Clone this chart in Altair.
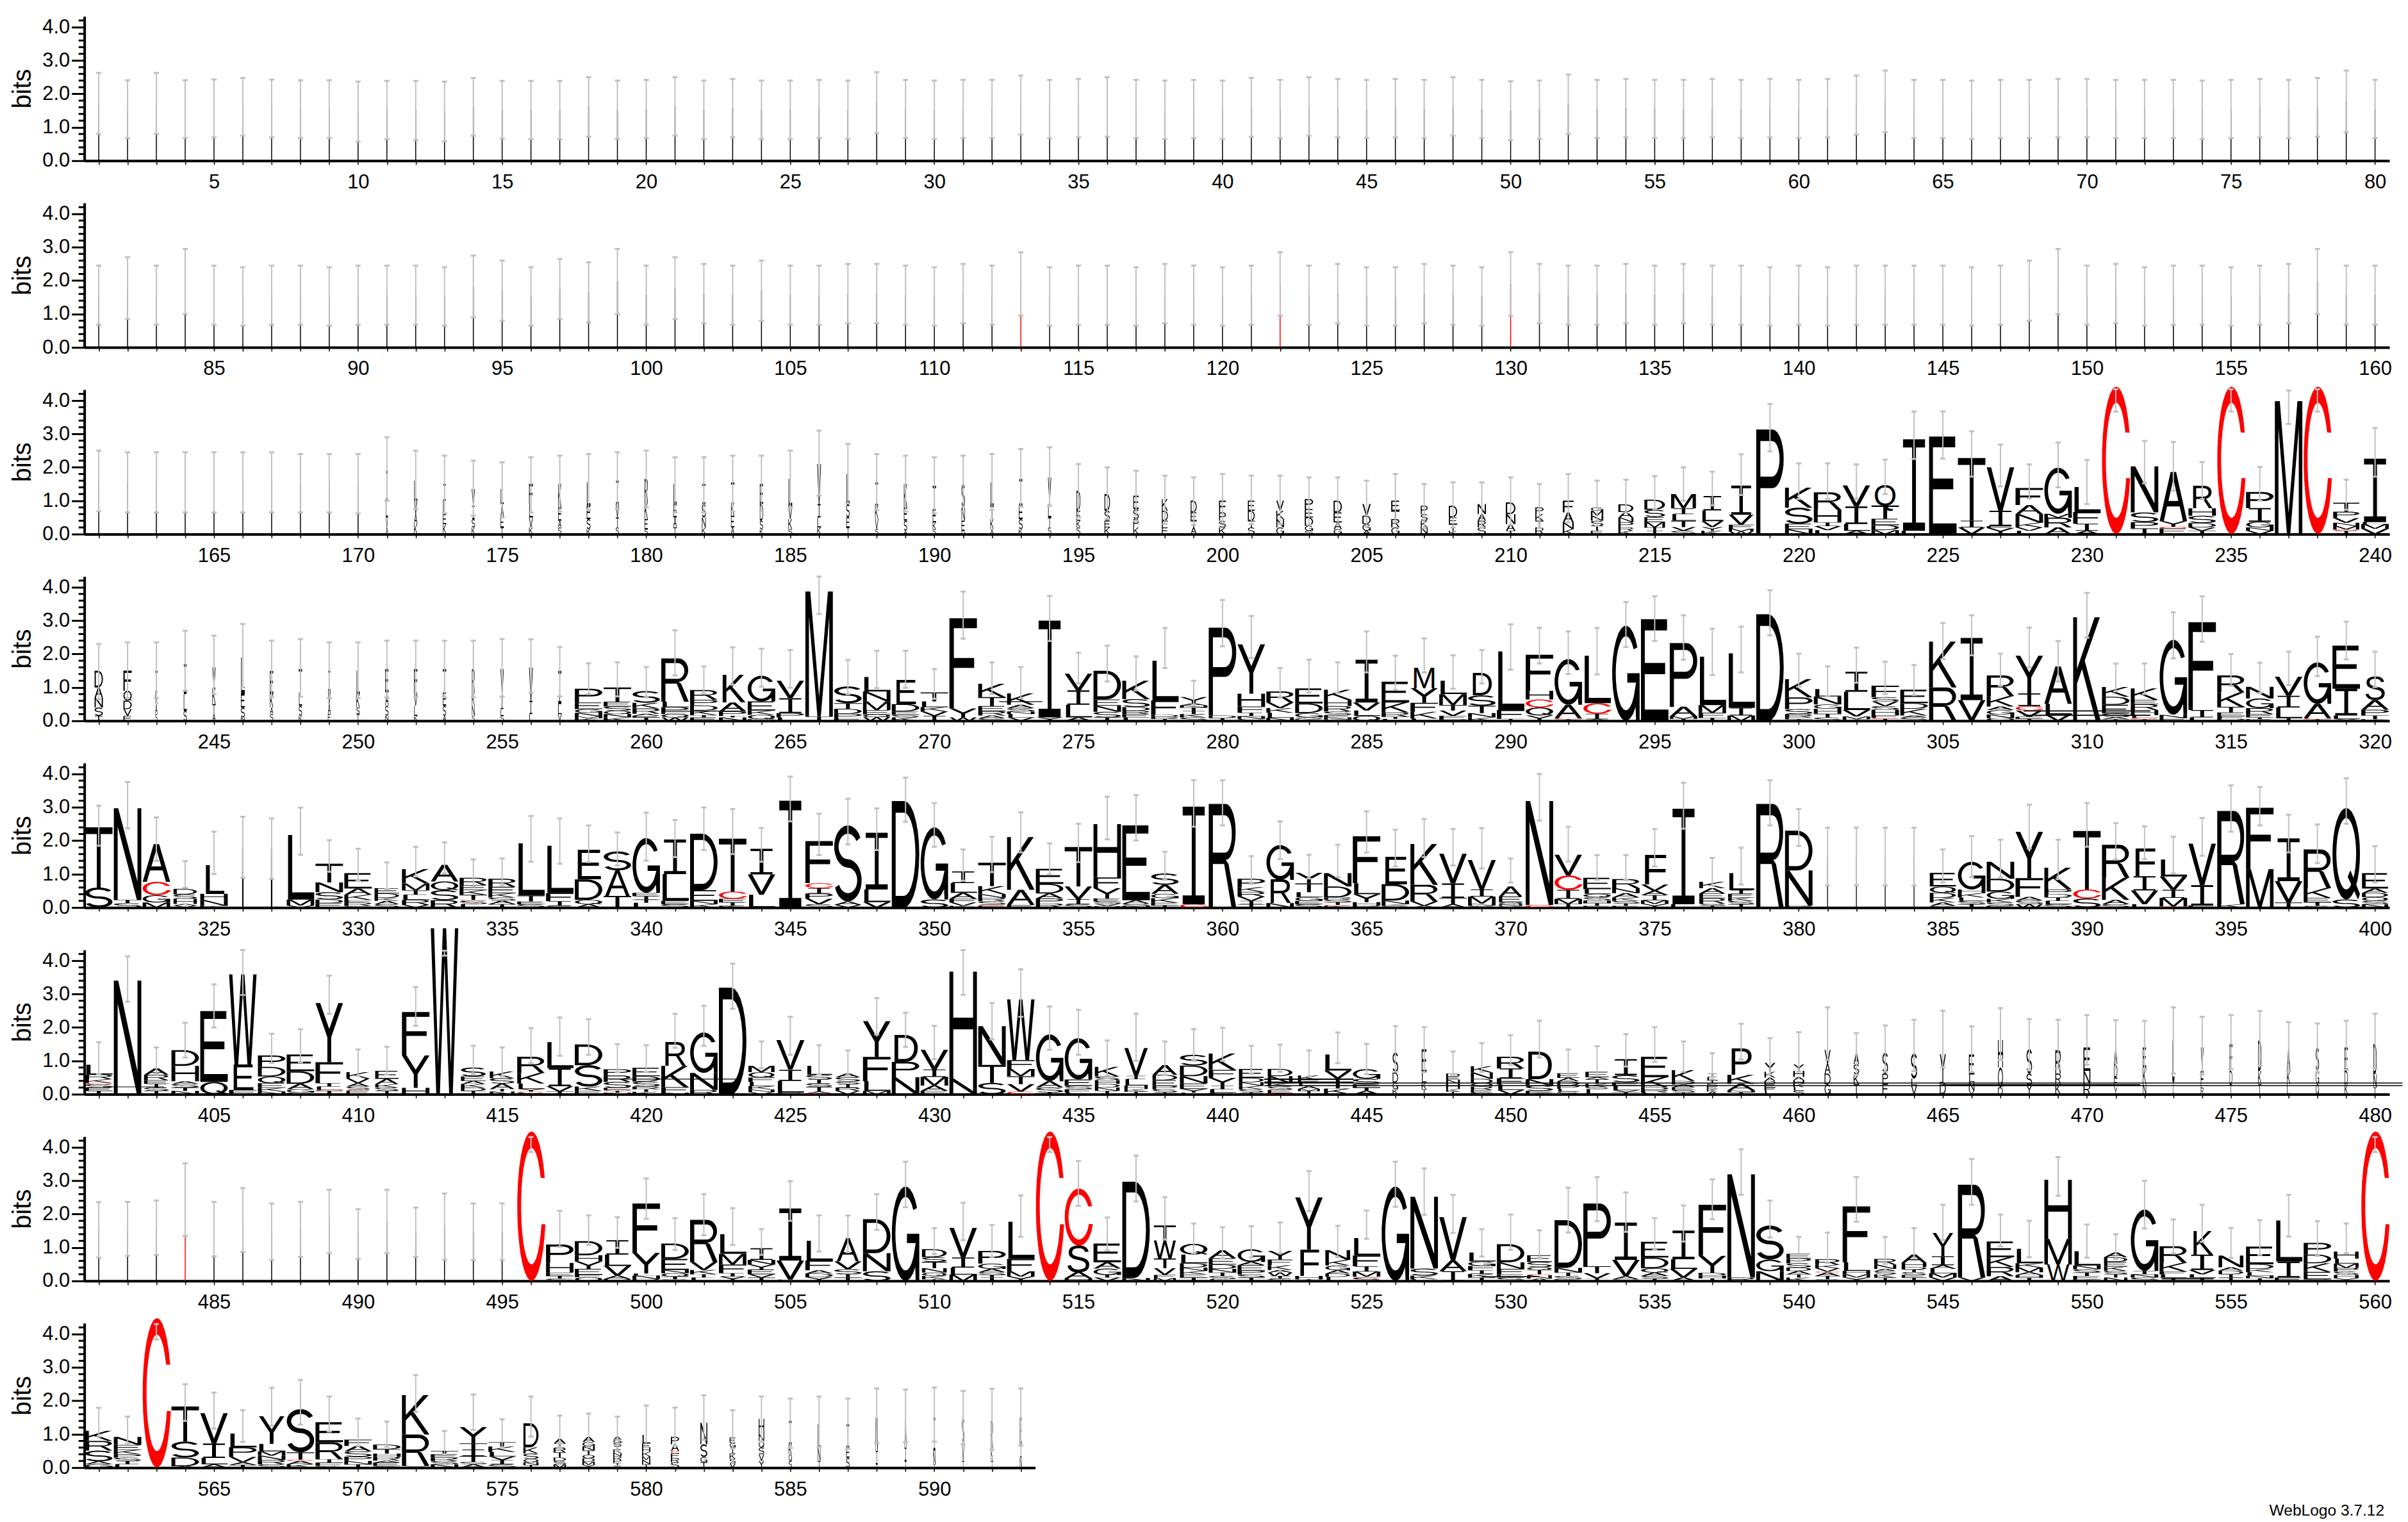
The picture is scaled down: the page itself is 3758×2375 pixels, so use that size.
import math
import altair as alt
import pandas as pd

# ---------- error-bar extents (bits), read per position ----------
TOP_R1 = [2.63,2.41,2.63,2.41,2.43,2.48,2.43,2.41,2.41,2.37,2.39,2.39,2.37,2.48,2.39,2.39,2.39,2.5,2.4,2.42,2.5,2.4,2.45,2.4,2.4,2.42,2.4,2.65,2.42,2.4,2.42,2.42,2.55,2.42,2.45,2.5,2.42,2.4,2.42,2.4,2.48,2.42,2.5,2.45,2.42,2.45,2.42,2.5,2.42,2.38,2.4,2.58,2.42,2.45,2.42,2.42,2.45,2.42,2.45,2.42,2.45,2.55,2.7,2.42,2.42,2.4,2.42,2.42,2.45,2.45,2.42,2.42,2.42,2.4,2.42,2.45,2.42,2.48,2.7,2.42]
LOW_R1 = [.8,.68,.8,.68,.7,.75,.7,.68,.68,.57,.64,.62,.58,.75,.66,.64,.64,.72,.65,.68,.75,.65,.7,.65,.65,.68,.65,.82,.68,.65,.68,.68,.78,.68,.7,.72,.68,.65,.68,.65,.72,.68,.75,.7,.68,.7,.68,.75,.68,.62,.65,.8,.68,.7,.68,.68,.7,.68,.7,.68,.7,.78,.85,.68,.68,.65,.68,.68,.7,.7,.68,.68,.68,.65,.68,.7,.68,.72,.85,.68]
TOP_R2 = [2.45,2.7,2.45,2.95,2.45,2.4,2.45,2.45,2.4,2.45,2.45,2.45,2.4,2.75,2.6,2.4,2.65,2.55,2.95,2.45,2.7,2.5,2.45,2.6,2.45,2.45,2.5,2.5,2.45,2.4,2.5,2.45,2.85,2.4,2.45,2.45,2.4,2.5,2.45,2.4,2.45,2.85,2.45,2.5,2.4,2.4,2.5,2.45,2.4,2.85,2.5,2.45,2.45,2.5,2.45,2.5,2.45,2.45,2.4,2.45,2.4,2.45,2.45,2.45,2.45,2.4,2.45,2.6,2.95,2.45,2.5,2.4,2.45,2.45,2.4,2.45,2.5,2.95,2.45,2.45]
LOW_R2 = [.68,.85,.68,1.0,.68,.65,.68,.68,.65,.68,.68,.68,.65,.9,.8,.65,.85,.75,1.0,.68,.85,.72,.68,.8,.68,.68,.72,.72,.68,.65,.72,.68,.95,.65,.68,.68,.65,.72,.68,.65,.68,.95,.68,.72,.65,.65,.72,.68,.65,.95,.72,.68,.68,.72,.68,.72,.68,.68,.65,.68,.65,.68,.68,.68,.68,.65,.68,.8,1.0,.68,.72,.65,.68,.68,.65,.68,.72,1.0,.68,.68]
TOP_R3 = [2.5,2.45,2.45,2.45,2.45,2.45,2.45,2.4,2.4,2.4,2.9,2.5,2.35,2.2,2.15,2.3,2.35,2.4,2.45,2.5,2.3,2.3,2.35,2.35,2.5,3.1,2.7,2.4,2.35,2.3,2.35,2.4,2.55,2.6,2.1,2.0,1.9,1.75,1.7,1.8,1.75,1.75,1.7,1.7,1.6,1.8,1.5,1.55,1.55,1.7,1.5,1.8,1.6,1.63,1.74,2.0,1.87,2.39,3.9,2.12,2.12,2.09,2.23,3.67,3.67,3.08,2.68,2.09,2.74,2.22,4.34,2.79,2.76,2.16,4.34,2.01,4.3,4.34,1.63,3.18]
LOW_R3 = [.68,.65,.65,.65,.65,.65,.65,.65,.65,.62,1.0,.75,.62,.55,.5,.65,.68,.72,.75,.8,.65,.65,.68,.68,.78,1.15,.92,.72,.68,.62,.68,.72,.82,.85,.5,.45,.4,.3,.28,.35,.3,.3,.28,.28,.22,.35,.18,.2,.2,.28,.18,.35,.25,.64,.75,1.0,.86,1.17,2.48,1.05,1.05,1.05,1.2,2.25,2.26,1.72,1.43,1.07,1.4,.9,3.67,1.52,1.3,1.05,3.67,1.0,3.3,3.67,.73,1.72]
TOP_R4 = [2.3,2.35,2.35,2.7,2.55,2.9,2.4,2.45,2.35,2.35,2.4,2.4,2.4,2.4,2.45,2.44,2.21,1.72,1.75,1.61,2.71,1.63,2.2,2.16,2.12,4.32,1.82,2.1,2.1,1.55,3.87,1.75,1.61,3.74,2.04,2.25,1.93,2.78,1.2,3.62,3.14,1.58,1.83,1.75,2.68,1.95,2.47,1.96,2.12,2.89,2.79,2.68,2.78,3.56,3.73,3.16,2.76,2.82,3.91,2.01,1.63,2.19,1.77,1.67,2.93,3.16,2.01,2.79,2.39,3.83,1.71,1.72,3.25,3.73,2.0,1.74,2.07,2.52,2.97,2.07]
LOW_R4 = [.65,.68,.68,.9,.8,1.0,.7,.72,.68,.68,.7,.7,.7,.7,.72,.84,.73,.8,.73,.7,1.36,.82,1.08,1.02,.99,3.2,.8,.98,.99,.66,2.46,.8,.67,2.39,1.12,1.18,.91,1.58,.48,2.23,1.88,.69,.85,.83,1.45,.93,1.45,.96,1.12,1.53,1.72,1.4,1.39,2.21,2.39,1.83,1.37,1.45,2.56,1.02,.73,1.14,.8,.77,1.85,1.96,1.05,1.6,1.18,2.49,.88,.8,1.87,2.37,1.05,.83,1.07,1.34,1.84,1.01]
TOP_R5 = [3.05,3.76,2.7,1.39,2.27,2.72,2.67,2.99,2.02,1.76,1.35,1.82,1.95,1.44,1.47,2.74,2.67,2.46,2.25,2.84,2.62,3.0,2.95,2.38,3.92,2.81,3.26,2.97,3.89,3.13,1.74,2.12,2.85,1.92,2.51,3.32,3.37,1.67,3.81,3.81,1.54,2.58,1.58,1.88,2.88,2.33,2.65,2.35,2.38,1.47,4.0,2.42,1.57,1.57,2.35,3.74,1.49,1.79,3.81,2.95,2.39,2.39,2.39,2.39,1.74,2.14,2.03,3.08,2.03,3.13,2.53,2.43,2.12,2.68,3.66,3.61,2.78,2.49,3.87,1.84]
LOW_R5 = [1.85,2.37,1.4,.59,1.0,.89,.86,1.58,1.07,.8,.55,.93,1.02,.63,.67,1.37,1.31,1.36,1.26,1.4,1.51,1.72,1.6,1.37,2.58,1.57,1.89,1.72,2.57,1.82,.8,1.06,1.65,.99,1.36,2.04,2.01,.83,2.42,2.46,.71,1.45,.87,.91,1.65,1.23,1.51,1.26,1.17,.75,2.6,1.38,.83,.82,1.23,2.36,.66,.69,2.46,1.84,.66,.66,.66,.66,.75,.91,.9,1.77,.85,1.82,1.44,1.45,1.02,1.55,2.27,2.46,1.65,1.33,2.51,.75]
TOP_R6 = [1.56,4.13,1.4,2.14,3.29,4.32,1.81,1.95,3.55,1.34,1.42,3.21,4.3,1.45,1.4,1.98,2.3,2.25,1.5,1.47,2.41,2.65,3.91,1.58,2.32,1.47,1.31,2.88,2.44,2.05,4.32,2.73,3.74,2.63,2.53,1.61,2.41,1.58,1.95,1.99,1.45,1.49,1.31,1.85,1.51,2.04,2.01,1.28,1.53,1.77,2.2,1.34,1.44,1.8,2.01,1.58,1.23,2.11,1.68,1.86,2.6,1.83,2.06,2.23,2.5,2.03,2.58,2.25,2.23,2.37,2.22,2.2,2.6,2.32,2.37,2.49,2.16,2.12,2.2,2.41]
LOW_R6 = [.6,2.77,.6,1.1,2.0,2.97,.94,.96,2.41,.55,.59,2.05,4.15,.6,.54,.93,1.15,1.18,.66,.66,1.39,1.45,2.56,.78,1.18,.59,.57,1.79,1.42,1.05,2.98,1.64,2.32,1.33,1.18,.55,1.0,.58,1.0,1.0,.61,.67,.54,.93,.6,.67,.66,.59,.67,.88,1.1,.54,.57,.83,.97,.67,.45,1.04,.59,.67,1.02,.57,.67,.69,.8,.66,1.02,.71,.77,.88,.75,.75,.62,.59,.75,.86,.7,.66,.73,.78]
TOP_R7 = [2.36,2.37,2.41,3.52,2.37,2.78,2.32,2.37,2.73,2.15,2.73,2.2,2.62,2.32,2.32,4.31,2.1,1.96,1.91,3.07,1.88,2.6,2.18,1.55,2.99,1.96,1.96,2.6,3.57,1.58,2.34,1.67,2.56,4.31,3.59,1.9,3.75,2.51,1.72,1.61,1.64,1.75,3.29,1.65,2.11,3.57,3.37,2.58,1.55,1.99,1.52,2.79,3.11,2.65,1.88,2.26,3.04,3.94,2.41,1.32,1.45,3.11,1.32,1.58,2.28,3.65,1.99,1.8,3.71,1.69,1.4,3.0,1.84,2.28,1.59,1.82,2.58,1.79,1.72,4.31]
LOW_R7 = [.7,.75,.78,1.35,.74,.87,.63,.72,.83,.66,.83,.72,.63,.63,.63,3.86,1.02,1.08,.99,1.86,.93,1.37,1.08,.78,1.8,.88,.86,1.53,2.21,.8,1.22,.72,1.32,3.86,2.25,.91,2.38,1.24,.83,.67,.7,.83,2.09,.71,1.26,2.22,1.98,1.44,.73,.93,.69,1.45,1.79,1.47,.93,1.18,1.85,2.58,1.3,.59,.54,1.77,.51,.69,1.22,2.28,1.04,.71,2.55,.7,.65,1.57,.82,1.17,.69,.78,1.33,.75,.83,3.86]
TOP_R8 = [1.79,1.53,4.3,2.5,2.25,1.72,2.39,2.63,2.13,1.47,1.38,2.77,1.1,2.19,1.45,2.13,1.56,1.62,1.53,1.86,1.8,2.17,1.72,2.13,2.07,2.13,2.07,2.37,2.34,2.4,2.3,2.36,2.37]
LOW_R8 = [.93,.71,3.84,1.4,1.17,.77,1.26,1.29,1.08,.65,.62,1.67,.4,1.13,.59,.93,.61,.61,.51,.62,.65,.83,.57,.77,.59,.62,.57,.73,.76,.78,.7,.54,.66]

ROW_STARTS = [1, 81, 161, 241, 321, 401, 481, 561]
ROW_TOPS = [TOP_R1, TOP_R2, TOP_R3, TOP_R4, TOP_R5, TOP_R6, TOP_R7, TOP_R8]
ROW_LOWS = [LOW_R1, LOW_R2, LOW_R3, LOW_R4, LOW_R5, LOW_R6, LOW_R7, LOW_R8]

# ---------- stacked letters: top to bottom, height in bits; w = width share ----------
STACK_R3 = {
171:"w.08 I.9 L.5 V.3 A.2",172:"w.12 L.6 V.4 A.3 K.3",173:"w.12 I.5 L.4 E.3 K.3",174:"w.12 V.5 I.4 S.25 K.2",175:"w.12 L.45 A.4 E.3 T.2",
176:"w.14 F.6 L.4 V.3 K.2",177:"w.12 K.7 E.4 A.2 S.2",178:"w.14 L.7 E.4 S.3 K.15",179:"w.12 I.7 V.4 T.3 S.2",180:"w.12 R.7 K.5 E.3 S.15",
181:"w.12 L.6 E.4 A.3 T.2",182:"w.14 I.6 S.4 N.3 K.2",183:"w.12 T.6 K.4 E.35 A.2",184:"w.12 E.6 D.5 S.25 K.15",185:"w.14 L.8 V.4 K.3 S.15",
186:"w.14 V1.2 I.4 L.3 K.2",187:"w.12 L.9 S.4 E.3 T.2",188:"w.12 I.7 K.4 V.3 S.15",189:"w.12 K.7 E.4 S.3 A.1",190:"w.12 T.7 E.4 K.2 S.15",
191:"w.12 S.7 N.4 E.3 D.1",192:"w.12 L.7 T.4 K.3 A.15",193:"w.14 I.8 E.4 S.3 K.15",194:"w.12 V.8 L.4 T.3 S.2",195:"w.14 D.6 E.3 K.2 S.2",
196:"w.2 D.5 S.3 E.2 K.2",197:"w.2 E.4 S.3 P.25 K.2",198:"w.22 K.35 D.3 F.2 E.2",199:"w.22 D.35 E.25 T.2 A.2",200:"w.25 F.35 P.25 S.2 K.2",
201:"w.25 E.3 D.3 T.2 S.2",202:"w.28 V.3 K.25 N.25 G.2",203:"w.3 P.3 E.25 D.25 G.15 S.1",204:"w.3 D.35 E.3 A.2 G.15",205:"w.3 V.35 D.25 G.2 A.1",
206:"w.3 E.3 T.25 R.25 G.2",207:"w.25 P.25 S.2 K.2 N.2",208:"w.3 D.35 E.2 T.2 K.1",209:"w.3 N.3 A.2 R.2 S.2",210:"w.35 D.35 N.3 A.2 T.1",
211:"w.3 P.2 K.2 T.2 R.2",212:"w.4 F.35 A.3 N.2 K.15",213:"w.45 G.1 M.15 N.15 S.15 T.15 E.1",214:"w.55 D.23 A.16 N.14 P.16 R.1 K.1",215:"w.75 D.3 S.22 E.15 M.16 T.1 I.1",
216:"w.9 M.43 I.17 L.2 T.19 V.11 S.1",217:"w.8 I.43 L.32 V.18 Y.11 K.1",218:"w.9 I.87 V.3 F.12 M.08 W.08",219:"P3.13",220:"K.6 S.48 E.16 N.15",
221:"R.52 H.38 I.11 V.12 L.12",222:"V.63 I.53 L.2 A.1",223:"Q.62 T.4 E.19 D.15 M.12",224:"I2.74 L.1",225:"E2.92",226:"T1.88 I.2 V.2",227:"V1.3 I.46 E.06 Y.18",
228:"F.51 A.27 N.26 K.14 V.1 L.1",229:"G1.38 M.12 R.29 A.2",230:"L.75 F.35 I.21 A.1",231:"C4.42",232:"N1.38 S.29 P.19 T.17",233:"A1.47 Y.17 C.05 E.17",
234:"R.67 H.22 S.22 D.13 V.1 T.1",235:"C4.42",236:"P.48 I.41 G.17 N.1 V.1",237:"M3.98",238:"C4.42",239:"w.95 T.27 P.19 V.14 N.1 M.1 C.04 I.1",240:"I1.9 L.06 M.14 V.16",
}
STACK_R4 = {
241:"w.3 D.5 A.3 N.3 S.25 T.15",242:"w.3 F.6 Q.3 D.25 V.2 E.15",243:"w.08 T.6 K.4 A.3 S.2",244:"w.12 I.9 L.5 S.3",245:"w.12 V.6 K.5 T.3 A.2",246:"w.14 L1.1 E.4 S.3 N.1",
247:"w.12 E.7 K.4 A.2 S.2",248:"w.12 T.7 L.4 S.3 K.15",249:"w.1 I.6 V.4 A.3 E.2",250:"w.12 L.7 K.4 S.2 T.2",251:"w.12 E.7 A.4 S.3 N.15",252:"w.12 F.7 V.4 L.3 K.15",
253:"w.12 T.7 E.4 S.3 A.15",254:"w.1 R.7 K.4 N.3 S.15",255:"w.12 V.8 I.4 L.2 S.15",256:"w.14 V1.0 I.4 L.2",257:"w.14 I1.0 L.3 V.2",
258:"P.41 E.2 G.11 N.11 M.05 K.08",259:"T.43 E.14 S.13 Q.1 N.1 K.1",260:"S.35 K.17 R.16 A.06 E.05 T.1",261:"R1.3 L.16 P.16 E.05 Q.1 W.1",262:"R.29 P.17 D.15 K.14 T.07 E.1",
263:"K.82 A.27 P.13 T.05 N.1",264:"G.77 E.27 K.13 Q.13 D.05",265:"V.52 I.45 P.13 L.1",266:"M3.75 I.12",267:"S.5 T.17 D.15 P.13 F.08",268:"L.43 N.3 M.26 E.13 Q.08 W.11",
269:"E.74 D.22 E.1 S.08 K.1",270:"T.27 L.17 K.13 V.13 I.15",271:"F2.7 Y.27 W.1",272:"K.4 T.27 E.15 R.13 A.08 S.08",273:"K.34 A.1 S.1 N.08 L.1 V.1",274:"I2.9 Y.1",
275:"V.5 I.43 L.38 A.1",276:"D.86 E.19 N.18 S.17 T.1",277:"K.55 S.24 D.11 R.1 E.1 L.1",278:"L1.19 F.43 D.06 R.06 T.06",279:"Y.19 A.06 N.06 T.1 I.1 K.1 S.1",280:"P2.63 D.08 T.08",
281:"Y1.48 H.38 F.19 I.1 N.08 S.06",282:"R.33 V.17 K.14 L.15 N.09",283:"E.45 D.29 G.13 S.05 K.05",284:"K.3 H.19 R.16 S.11 E.07 N.06 Q.04",285:"I1.28 V.24 L.16 Q.15",
286:"E.62 K.3 R.13 T.06 L.06",287:"M.62 Y.44 F.27 K.2 L.07",288:"L.4 M.33 T.16 V.16 F.1 P.05",289:"D.66 S.31 T.22 N.13 K.1",290:"L1.76 F.26 T.06",291:"F1.08 H.26 C.24 Q.24 Y.16",
292:"G1.37 A.4 C.03 T.05",293:"L1.42 C.32 I.16 A.05",294:"G2.85",295:"E3.04",296:"P1.91 A.29 M.07 T.06",297:"L1.45 M.23 F.15 T.09",298:"L1.63 I.23 M.16",299:"D3.19",
300:"K.55 P.35 S.15 R.1 E.05 T.05",301:"L.22 N.24 G.13 H.15 T.11 S.1",302:"I.6 L.55 V.19 M.08 K.05",303:"F.34 S.13 V.14 S.11 H.16 F.08 C.03 T.06",304:"E.4 D.17 K.2 A.06 S.1",
305:"K1.37 R1.0",306:"I1.86 V.62",307:"R.62 K.31 A.11 G.13 N.11 Q.08",308:"Y1.13 I.38 C.13 V.19 E.06 T.06",309:"A1.12 L.32 V.19",310:"K3.1",311:"K.29 D.24 E.26 S.11 A.06 T.05",
312:"K.34 E.13 R.18 H.15 L.08 C.04 T.05",313:"G2.25 N.1 E.08",314:"F2.63 I.22 L.1",315:"R.51 K.43 T.17 E.11 F.08 P.06",316:"N.35 G.29 R.18 E.1 I.05 K.05",317:"V.57 I.35 L.32 T.08",
318:"G1.24 A.43 C.03 T.05",319:"E1.29 I.8 L.1 Y.06",320:"S.69 A.29 P.17 T.11 K.05",
}
STACK_R5 = {
321:"T1.8 S.6",322:"N2.74 T.1 S.13",323:"A1.13 C.4 G.22 M.15",324:"w.85 D.17 S.13 H.15 A.05 V.06",325:"L.86 H.18 N.18 K.05",328:"L1.93 M.18 V.06",329:"T.56 N.29 S.22 D.11 E.13",
330:"E.46 A.19 K.15 F.08 R.1 S.05",331:"w.9 E.16 D.13 K.09 A.1 S.1",332:"K.43 M.21 I.13 L.15 R.15 V.08",333:"A.5 Q.26 S.3 R.22",334:"R.22 E.15 K.14 T.15 C.03 S.1 L.1",
335:"R.24 E.19 K.13 S.1 A.1 T.1",336:"L1.56 T.18 E.08 S.1",337:"L1.42 F.24 I.14 S.05",338:"E.88 D.61 Q.13 A.1",339:"S.57 A.76 T.35",340:"G1.64 E.1 I.1 T.1 L.14",
341:"I1.04 L.8 E.1 S.1",342:"D1.69 E.32 N.1 K.1",343:"T1.58 C.22 E.11 I.1 K.05",344:"I.77 V.61 L.38",345:"I3.2",346:"F1.26 C.15 I.16 P.16 V.16 S.1",347:"S2.28 A.1 V.08",
348:"I1.7 L.38 V.16",349:"D3.19",350:"G2.16 S.24",351:"I.35 L.29 A.18 F.11 V.1 K.05",352:"T.7 K.24 N.11 R.1 S.11 C.03 E.05",353:"K1.58 A.45 E.08",354:"E.45 D.29 A.15 P.15 R.12",
355:"T1.18 V.38 I.15 S.1",356:"H1.6 F.32 Y.31 E.08 S.08 V.06 Q.05",357:"E2.24 A.1 S.07 N.05",358:"S.34 A.27 G.13 K.14 E.08 T.06",359:"I2.92 C.1",360:"R3.1",361:"P.25 K.14 R.14 V.13 I.1 T.1",
362:"G1.04 R.7 N.13",363:"Y.32 T.26 L.15 G.11 E.1 S.1",364:"N.4 D.33 R.06 S.08 T.08 C.03 K.05",365:"F1.4 L.33 Y.24 H.1 R.06",366:"E.82 D.49 N.11 K.05 S.05",367:"K1.22 R.5 V.13 A.05",
368:"V.89 I.43 T.19 A.1",369:"V.88 I.21 M.21 N.06 S.06",370:"w.85 A.3 E.17 Q.06 N.05 G.05",371:"N3.11 C.08",372:"V.62 C.43 I.27 M.15 T.11",373:"E.34 L.14 Q.1 S.1 H.08 T.08 E.05",
374:"R.27 N.15 A.13 K.1 S.08 T.07 E.05",375:"F.89 V.19 A.13 I.15 M.11 Y.11",376:"I2.86 L.1",377:"w.95 K.19 A.16 E.14 R.16 S.06 T.06",378:"w.95 L.51 I.11 E.11 K.1 S.1 T.1",
379:"R3.1",380:"D1.19 N1.05 R.06",385:"w.95 E.41 Q.19 D.15 K.14 A.1 S.05",386:"G.83 H.11 K.13 L.1 S.1 T.1",387:"N.51 D.38 G.22 K.11 S.1 E.05",388:"Y1.39 F.56 A.11 S.11 W.1",
389:"K.65 P.14 D.1 I.1 L.1 S.1",390:"T1.75 C.27 S.27",391:"R.99 K.66 A.13 S.1",392:"F.83 I.43 V.41 L.1",393:"L.51 V.4 I.24 M.26 C.03",394:"V1.24 I.61 F.06",395:"R2.79 K.1",
396:"F1.84 M1.15",397:"I1.28 V.64 T.15",398:"R1.16 K.29 E.13 T.11 S.05",399:"Q2.74 S.24",400:"w.95 E.46 A.13 D.13 Q.11 S.1 N.1",
}
STACK_R6 = {
401:"L.29 R.14 K.11 C.04 S.1 E.1 T.1",402:"N3.4",403:"w.9 A.19 R.16 E.11 I.11 S.1 T.1",404:"D.47 H.46 A.08 S.11 T.1 N.1",405:"E2.12 Q.37",406:"W2.71 E.75 F.13",407:"P.34 D.29 Q.2 E.14 K.11 N.08",
408:"E.5 D.38 A.16 G.1 S.05",409:"Y1.77 F.63 I.1 L.1 C.03 T.1",410:"w.85 K.19 V.14 A.1 S.1 C.03 E.1",411:"w.85 E.24 A.16 K.1 S.1 T.1",412:"F1.3 Y.97 H.19",413:"W4.97",414:"w.9 S.27 E.13 A.1 K.1 D.1 T.1",
415:"w.9 K.2 S.16 A.16 T.08 N.08",416:"R.48 K.32 L.16 Y.08 C.03 S.05",417:"L.78 I.54 V.16 T.08",418:"D.62 S.64 K.13 E.1",419:"P.19 R.19 S.18 E.06 C.03 T.05 N.05",420:"E.25 D.16 S.15 R.08 T.08 K.07",
421:"R.71 K.64 F.16 N.05",422:"G1.21 N.51 R.13",423:"D3.19",424:"w.95 M.19 Q.16 F.13 L.13 K.1 N.08 V.06",425:"V.88 I.33 L.35 S.05",426:"w.95 L.27 S.14 I.12 S.1 T.14 A.05 C.03",427:"w.9 A.11 S.13 S.08 I.1 R.1 V.1",
428:"Y1.07 F.73 L.29 M.1",429:"D.81 P.46 N.51",430:"V.59 I.22 M.26 A.16 E.1",431:"H3.2 N.47",432:"N1.16 T.54 S.34",433:"W1.82 F.26 M.22 T.24 V.22 C.08",434:"G1.4 A.19 S.15 T.05",435:"G1.24 E.19 S.1 F.1 L.05",
436:"w.9 K.29 S.11 H.11 D.11 N.1 I.1",437:"w.85 V.83 I.1 L.19 H.1 K.08 T.08",438:"w.9 A.29 D.16 E.17 P.1 S.1 T.05",439:"S.32 D.32 N.22 E.16 Y.11 L.05",440:"K.49 F.24 Y.24 I.1 L.1 S.05",441:"w.9 E.27 D.13 N.11 K.1 S.1 T.05",
442:"w.9 D.22 N.21 K.1 S.1 E.1 C.03",443:"w.8 K.13 E.09 L.1 A.08 M.06 T.1",444:"L.48 V.24 T.2 I.1 K.17",445:"G.29 S.16 E.1 T.1 A.1",446:"w.2 S.6 D.3 G.2 K.15",447:"w.18 E.7 L.3 K.2 T.15",
448:"w.5 D.09 E.1 N.11 H.16 K.08 T.08",449:"w.8 K.19 N.19 D.13 Q.1 R.1 E.08 S.05",450:"R.35 I.29 F.19 L.16 V.13",451:"D.82 N.19 S.16 E.05 K.05",452:"w.8 E.14 A.1 D.13 P.1 L.08 S.08",453:"w.85 E.16 A.06 T.14 K.1 S.06 L.15",
454:"I.48 S.21 E.11 L.13 V.06 T.06",455:"E.61 K.3 D.08 R.08 L.05",456:"w.85 K.32 D.11 A.08 E.08 S.08 T.05",457:"w.4 I.1 L.1 T.1 S.08 E.08 K.08 A.08",458:"P.77 K.27 A.19 N.06 T.06",459:"w.4 Y.27 K.17 A.1 D.1 E.1 F.1 L.1",
460:"w.4 Y.19 H.18 A.1 H.11 K.1 L.1 S.11",461:"w.22 V.41 A.3 D.32 G.3",462:"w.2 A.33 S.3 K.3 T.3",463:"w.2 S.62 P.3 F.32",464:"w.22 S.75 L.2 V.27",465:"w.22 Y.83 D.37",466:"w.2 E.6 L.22 N.27 V.1",
467:"w.18 H.82 Q.6 D.2",468:"w.2 S.73 S.35 Y.27",469:"w.2 R.7 R.32 K.3",470:"w.25 E.7 N.4 R.3",471:"w.12 A.5 D.4 F.3 Y.2",472:"w.12 E.6 K.5 N.3",473:"w.08 L1.2 I.4",474:"w.1 V.7 F.5 R.2",475:"w.1 F.8 D.4 I.3",476:"w.12 D.9 K.4 I.3",477:"w.12 A.7 K.4 L.3",478:"w.12 S.7 G.4 Q.3",479:"w.12 E.7 D.4 K.3",480:"w.12 D.9 N.4 I.2",
}
STACK_R7 = {
496:"C4.48",497:"P.55 H.29 E.1 T.08 S.07",498:"D.42 H.19 Y.22 E.17 F.08 Q.11",499:"I.43 L.34 V.29 A.1 P.06",500:"F1.48 Y.62 L.06 N.1 R.06",501:"D.46 E.33 N.1 Q.1 T.08 S.05",502:"R1.26 V.24 K.13 I.1 L.1",
503:"L.59 M.32 F.26 I.1 Y.13",504:"I.35 N.14 Y.15 E.14 V.1 T.1",505:"I1.56 V.57 L.04",506:"L.59 F.29 A.1 D.11 Y.11",507:"A.68 V.24 S.15 I.1 T.1",508:"D1.02 N.54 S.29",509:"G2.83",510:"w.9 D.24 S.14 T.19 N.13 Q.1 K.1 I.05",
511:"V.89 I.3 L.21 M.19",512:"P.38 G.16 A.1 S.08 T.08 I.1",513:"L1.11 F.37 M.16 Y.13",514:"C4.48",515:"C1.72 S.78 A.19 H.08",516:"E.56 A.19 G.19 I.08 V.1",517:"D2.88 N.09",518:"w.8 T.45 W.54 T.29 V.2 F.09 M.09",
519:"Q.32 L.26 D.13 N.1 K.1 E.1 T.1",520:"A.24 E.19 D.13 N.11 T.1 S.1 L.05",521:"G.38 A.1 E.16 P.11 S.1 T.1",522:"w.9 Y.26 F.17 K.14 A.08 W.1 I.08 S.07",523:"Y1.56 F.79 H.1 T.05",524:"w.9 N.29 K.17 G.14 A.1 D.1 L.12",
525:"L.52 F.32 I.16 M.15 C.03 S.1",526:"G2.83",527:"N2.15 S.21 K.11 L.05",528:"V1.3 A.32 I.29",529:"L.27 G.13 F.13 I.11 K.11 T.1",530:"D.54 N.2 F.16 E.1 S.1",531:"w.9 E.2 S.16 Q.08 T.13 C.03 N.1 A.07",532:"D1.43 N.14 T.1 S.1 E.05",
533:"P1.88 T.21 V.15 I.08",534:"I1.12 V.49 A.09 S.05",535:"E.47 D.32 Q.13 A.1 S.08 T.07",536:"I.86 L.29 V.26 A.1",537:"F1.53 Y.51 D.08 H.08 T.08",538:"N3.09 R.1",539:"S1.02 G.35 N.29",540:"w.9 E.13 P.15 S.13 D.1 A.1 T.1 K.1",
541:"w.9 R.17 K.1 V.1 C.03 A.1 T.1 S.05",542:"F1.67 L.26 H.1 M.1 Y.1",543:"w.8 R.17 N.13 A.06 S.1 K.1 T.1",544:"w.9 A.24 H.13 D.08 I.08 S.08 E.08 T.1",545:"Y.68 I.27 A.11 L.13 M.13 V.1",546:"R2.78 V.1",547:"E.47 K.29 R.28 A.14",
548:"L.43 K.13 M.14 A.08 H.08 T.1",549:"H1.77 M.77 W.49",550:"L.43 N.11 S.1 T.1 E.1 K.05",551:"w.85 A.14 D.14 E.14 K.13 S.1 T.1 N.1",552:"G1.84 I.1 N.1 S.1",553:"R.5 K.26 F.08 L.1 T.1",554:"K.7 I.46 V.13 L.1 T.1",
555:"w.9 N.35 A.1 D.11 I.1 T.1",556:"E.53 D.14 K.1 L.1 N.08 T.08",557:"L1.23 I.48 E.1",558:"P.35 D.26 K.26 E.22 S.05",559:"w.9 H.21 L.15 M.13 P.11 S.1 H.1 Y.08",560:"C4.48",
}
STACK_R8 = {
561:"K.3 R.29 S.32 A.09 G.1",562:"N.24 E.15 K.13 P.1 S.1 I.1 L.1",563:"C4.48",564:"T1.05 S.48 D.26 A.04",565:"V.91 I.43 L.19 A.1",566:"L.41 P.29 V.16 A.08 T.08",567:"Y.84 L.22 M.13 N.13 R.13 S.1",568:"S1.29 T.22 C.04 A.1 K.1",
569:"E.6 R.51 I.1 F.1 S.05",570:"F.19 A.16 S.16 P.13 N.1 T.1",571:"D.14 T.13 H.1 R.11 A.06 E.1 S.05",572:"K1.18 R.94 Y.05",573:"T.1 E.1 R.1 S.1 N.1",574:"Y.48 T.19 I.19 T.18 S.07 A.1",575:"T.13 K.16 L.13 V.11 I.13 S.1",
576:"w.55 D.72 K.19 S.16 Q.1 N.08 T.08",577:"w.45 A.14 I.13 R.13 T.16 D.1 S.1 M.1",578:"w.45 A.15 G.13 N.13 T.13 Q.1 D.1 M.1 Y.08",579:"w.3 A.09 G.1 S.1 I.1 K.1 N.1 R.1 P.1 T.08 Y.06",580:"w.3 L.25 E.13 H.13 K.13 M.11 N.13 T.1",
581:"w.3 P.22 A.2 C.08 F.13 R.13 S.16",582:"w.25 N.64 S.38 G.16 T.16",583:"w.22 E.16 G.13 I.19 K.16 S.13 V.13",584:"w.2 H.46 N.2 Q.2 S.2 V.2 Y.2",585:"w.12 I.7 K.3 Q.2 S.2",586:"w.1 L.7 N.4 T.2",587:"w.12 I.7 E.3 S.3",
588:"w.08 N1.0 I.4 T.1",589:"w.08 A.9 I.4 T.2",590:"w.08 I1.0 N.4 T.1",591:"w.08 S.8 V.5 T.2",592:"w.07 R.8 K.4 T.2",593:"w.07 E.8 I.4 N.3",
}
THIN_RED = [113, 122, 130, 484]
THIN_WIDE = {326: .05, 327: .05, 381: .03, 382: .03, 383: .03, 384: .03}
# stray flat strokes: centre position, bottom in bits, span in positions, height in bits
FLAT_STROKES = [
    (262.0, .28, 2.9, .025), (273.0, .56, 1.5, .025), (310.0, .15, 4.4, .035), (310.0, .28, 4.4, .035),
    (402.2, .21, 2.1, .02), (421.0, .44, 4.6, .025),
    (443.0, .34, 3.1, .04), (443.0, .43, 3.1, .04), (461.2, .32, 39.5, .03), (461.2, .245, 39.5, .03), (468.4, .25, 6.9, .05),
    (530.0, .11, 2.0, .03), (553.5, .05, 1.8, .035),
]

STACKS = {**STACK_R3, **STACK_R4, **STACK_R5, **STACK_R6, **STACK_R7, **STACK_R8}

TICK_BITS = [0, 1, 2, 3, 4]
MINOR_BITS = [.2, .4, .6, .8, 1.2, 1.4, 1.6, 1.8, 2.2, 2.4, 2.6, 2.8, 3.2, 3.4, 3.6, 3.8, 4.2]
FOOTER = "WebLogo 3.7.12"

# ---------- layout ----------
PX_POS = 45.1
PLOT_H = 226
Y_MAX = 4.325
PX_BIT = PLOT_H / Y_MAX
FULL_W = 43.0
FONT = "Liberation Sans"
ADVANCE = dict(A=.667, C=.722, D=.722, E=.667, F=.611, G=.778, H=.722, K=.667, L=.556, M=.833, N=.722,
               P=.667, Q=.778, R=.722, S=.667, T=.611, V=.667, W=.944, Y=.667)


# ---------- letter outlines in a unit box (y up), so that a letter can be stretched ----------
def arc(cx, cy, rx, ry, a0, a1, n=14):
    return [(cx + rx * math.cos(math.radians(a0 + (a1 - a0) * i / n)),
             cy + ry * math.sin(math.radians(a0 + (a1 - a0) * i / n))) for i in range(n + 1)]


SR, Sr, Su, Sl = .2775, .1675, .7225, .2775
GLYPHS = {
    "A": ([[(0, 0), (.4, 1), (.6, 1), (1, 0), (.85, 0), (.73, .3), (.27, .3), (.15, 0)]], [[(.32, .41), (.68, .41), (.5, .86)]]),
    "C": ([arc(.52, .5, .52, .5, 22, 346, 28) + arc(.52, .5, .38, .39, 342, 29, 28)], []),
    "D": ([[(0, 0), (0, 1), (.45, 1)] + arc(.45, .5, .55, .5, 90, -90)], [[(.14, .11), (.14, .89), (.45, .89)] + arc(.45, .5, .41, .39, 90, -90)]),
    "E": ([[(0, 0), (0, 1), (.95, 1), (.95, .89), (.14, .89), (.14, .57), (.88, .57), (.88, .46), (.14, .46), (.14, .11), (1, .11), (1, 0)]], []),
    "F": ([[(0, 0), (0, 1), (1, 1), (1, .89), (.16, .89), (.16, .56), (.9, .56), (.9, .45), (.16, .45), (.16, 0)]], []),
    "G": ([arc(.5, .5, .5, .5, 33, 315, 22) + [(.87, 0), (1, 0), (1, .5), (.55, .5), (.55, .4), (.87, .4)] + arc(.5, .5, .37, .39, 320, 40, 22)], []),
    "H": ([[(0, 0), (0, 1), (.14, 1), (.14, .57), (.86, .57), (.86, 1), (1, 1), (1, 0), (.86, 0), (.86, .46), (.14, .46), (.14, 0)]], []),
    "I": ([[(.1, 0), (.1, .09), (.43, .09), (.43, .91), (.1, .91), (.1, 1), (.9, 1), (.9, .91), (.57, .91), (.57, .09), (.9, .09), (.9, 0)]], []),
    "K": ([[(0, 0), (0, 1), (.14, 1), (.14, .5), (.78, 1), (.97, 1), (.42, .58), (1, 0), (.82, 0), (.32, .5), (.14, .36), (.14, 0)]], []),
    "L": ([[(.05, 0), (.05, 1), (.2, 1), (.2, .11), (1, .11), (1, 0)]], []),
    "M": ([[(0, 0), (0, 1), (.18, 1), (.5, .16), (.82, 1), (1, 1), (1, 0), (.87, 0), (.87, .8), (.56, 0), (.44, 0), (.13, .8), (.13, 0)]], []),
    "N": ([[(0, 0), (0, 1), (.16, 1), (.86, .2), (.86, 1), (1, 1), (1, 0), (.84, 0), (.14, .8), (.14, 0)]], []),
    "P": ([[(0, 0), (0, 1), (.6, 1)] + arc(.6, .72, .4, .28, 90, -90) + [(.15, .44), (.15, 0)]], [[(.15, .55), (.15, .89), (.58, .89)] + arc(.58, .72, .27, .17, 90, -90)]),
    "Q": ([arc(.5, .5, .5, .5, 0, 360, 32), [(.55, .25), (.65, .32), (1, .06), (.93, 0)]], [arc(.5, .5, .36, .39, 0, 360, 32)]),
    "R": ([[(0, 0), (0, 1), (.62, 1)] + arc(.62, .73, .36, .27, 90, -90) + [(.72, .42), (1, 0), (.83, 0), (.56, .42), (.15, .42), (.15, 0)]], [[(.15, .53), (.15, .89), (.6, .89)] + arc(.6, .71, .24, .18, 90, -90)]),
    "S": ([arc(.5, Su, .5, SR, 25, 270, 18) + arc(.5, Sl, .34, Sr, 90, -160, 18) + arc(.5, Sl, .5, SR, -160, 90, 18) + arc(.5, Su, .34, Sr, 270, 25, 18)], []),
    "T": ([[(.43, 0), (.43, .89), (0, .89), (0, 1), (1, 1), (1, .89), (.57, .89), (.57, 0)]], []),
    "V": ([[(.42, 0), (0, 1), (.16, 1), (.5, .16), (.84, 1), (1, 1), (.58, 0)]], []),
    "W": ([[(.2, 0), (0, 1), (.12, 1), (.27, .18), (.44, 1), (.56, 1), (.73, .18), (.88, 1), (1, 1), (.8, 0), (.67, 0), (.5, .8), (.33, 0)]], []),
    "Y": ([[(.43, 0), (.43, .42), (0, 1), (.17, 1), (.5, .56), (.83, 1), (1, 1), (.57, .42), (.57, 0)]], []),
    "|": ([[(0, 0), (0, 1), (1, 1), (1, 0)]], []),
}


def signed_area(pts):
    return sum(pts[i][0] * pts[(i + 1) % len(pts)][1] - pts[(i + 1) % len(pts)][0] * pts[i][1] for i in range(len(pts)))


def oriented(pts, positive):
    return pts if (signed_area(pts) > 0) == positive else pts[::-1]


def glyph_path(letter, w_px, h_px):
    outers, holes = GLYPHS[letter]
    fmt = "{:.1f}" if w_px >= 12 and h_px >= 12 else "{:.2f}"
    parts = []
    for contour, positive in [(c, True) for c in outers] + [(c, False) for c in holes]:
        pts = oriented(contour, positive)
        parts.append("M" + "L".join(fmt.format((x - .5) * w_px) + "," + fmt.format(-y * h_px) for x, y in pts) + "Z")
    return "".join(parts)


def colour(letter):
    return "#ff0000" if letter == "C" else "#000000"


def parse_stack(spec):
    width, letters = 1.0, []
    for token in spec.split():
        if token[0] == "w":
            width = float(token[1:])
        elif token[0] in GLYPHS:
            letters.append((token[0], float(token[1:])))
    return width, letters


def build_row(row):
    start, tops, lows = ROW_STARTS[row], ROW_TOPS[row], ROW_LOWS[row]
    shapes, texts, bars, caps = [], [], [], []
    for i, (top, low) in enumerate(zip(tops, lows)):
        pos = start + i
        bars.append(dict(pos=pos, low=low, top=top))
        caps += [dict(pos=pos, bit=low), dict(pos=pos, bit=top)]
        if pos in STACKS:
            width, letters = parse_stack(STACKS[pos])
            y = 0.0
            for letter, h in reversed(letters):
                fs = h * PX_BIT / .688
                adv = ADVANCE.get(letter, 0) * fs
                if width >= .95 and letter != "I" and 34 <= adv <= 45:
                    texts.append(dict(pos=pos, y0=y, letter=letter, fs=fs, color=colour(letter)))
                else:
                    shapes.append(dict(pos=pos, y0=y, path=glyph_path(letter, FULL_W * width, h * PX_BIT), color=colour(letter)))
                y += h
        else:
            h = (top + low) / 2
            w = THIN_WIDE.get(pos, .035)
            shapes.append(dict(pos=pos, y0=0.0, path=glyph_path("|", FULL_W * w, h * PX_BIT),
                               color="#ff0000" if pos in THIN_RED else "#000000"))
    end = start + len(tops) - 1
    for centre, bottom, span, h in FLAT_STROKES:
        if start <= centre <= end:
            shapes.append(dict(pos=centre, y0=bottom, path=glyph_path("|", span * PX_POS, h * PX_BIT), color="#000000"))
    return pd.DataFrame(shapes), pd.DataFrame(texts), pd.DataFrame(bars), pd.DataFrame(caps)


def panel(row):
    start, count = ROW_STARTS[row], len(ROW_TOPS[row])
    end = start + count - 1
    shapes, texts, bars, caps = build_row(row)
    x_scale = alt.Scale(domain=[start - .5, end + .5], nice=False, zero=False)
    y_scale = alt.Scale(domain=[0, Y_MAX], nice=False)
    x_axis = alt.Axis(values=list(range(start, end + 1)), labelExpr="datum.value % 5 == 0 ? datum.label : ''",
                      format="d", title=None, grid=False, labelOverlap=False, labelAngle=0,
                      tickSize=6, tickWidth=1.5, tickColor="black", domainWidth=4, domainColor="black",
                      labelFont=FONT, labelFontSize=31, labelPadding=13, labelColor="black", labelFlush=False)
    y_axis = alt.Axis(values=TICK_BITS, format=".1f", title="bits", grid=False, tickSize=20, tickWidth=3,
                      tickColor="black", domainWidth=4, domainColor="black", labelFont=FONT, labelFontSize=31,
                      labelPadding=3, labelColor="black", titleFont=FONT, titleFontSize=40, titleFontWeight="normal",
                      titleColor="black", titlePadding=10)
    x_enc = alt.X("pos:Q", scale=x_scale, axis=x_axis)
    layers = [
        alt.Chart(shapes).mark_point(filled=True, opacity=1, strokeWidth=0).encode(
            x=x_enc,
            y=alt.Y("y0:Q", scale=y_scale, axis=y_axis, title="bits"),
            shape=alt.Shape("path:N", scale=None),
            color=alt.Color("color:N", scale=None),
            size=alt.value(4),
        )
    ]
    if len(texts):
        layers.append(alt.Chart(texts).mark_text(font=FONT, align="center", baseline="alphabetic").encode(
            x=x_enc,
            y=alt.Y("y0:Q", scale=y_scale, axis=y_axis, title="bits"),
            text="letter:N",
            size=alt.Size("fs:Q", scale=None),
            color=alt.Color("color:N", scale=None),
        ))
    layers.append(alt.Chart(bars).mark_rule(color="#c0c0c0", strokeWidth=2).encode(
        x=x_enc,
        y=alt.Y("low:Q", scale=y_scale, axis=y_axis, title="bits"),
        y2="top:Q",
    ))
    layers.append(alt.Chart(caps).mark_tick(color="#c0c0c0", orient="horizontal", size=8, thickness=3, opacity=1).encode(
        x=x_enc,
        y=alt.Y("bit:Q", scale=y_scale, axis=y_axis, title="bits"),
    ))
    layers.append(alt.Chart(pd.DataFrame({"bit": MINOR_BITS})).mark_rule(color="black", strokeWidth=3).encode(
        x=alt.value(-9), x2=alt.value(0),
        y=alt.Y("bit:Q", scale=y_scale, axis=y_axis, title="bits"),
    ))
    if row == len(ROW_STARTS) - 1:
        layers.append(alt.Chart(pd.DataFrame({"t": [FOOTER]})).mark_text(
            font=FONT, fontSize=24.6, align="right", baseline="alphabetic", color="black").encode(
            text="t:N", x=alt.value(3600), y=alt.value(301)))
    return alt.layer(*layers).properties(width=count * PX_POS, height=PLOT_H)


chart = alt.vconcat(*[panel(r) for r in range(len(ROW_STARTS))], spacing=66.2, bounds="flush").resolve_scale(
    x="independent", y="independent", shape="independent", color="independent", size="independent"
).configure_view(stroke=None).properties(
    padding={"left": 7, "top": 14, "right": 0, "bottom": 0}, background="white"
)
chart.save("out.html", embed_options={"renderer": "svg", "actions": False})
